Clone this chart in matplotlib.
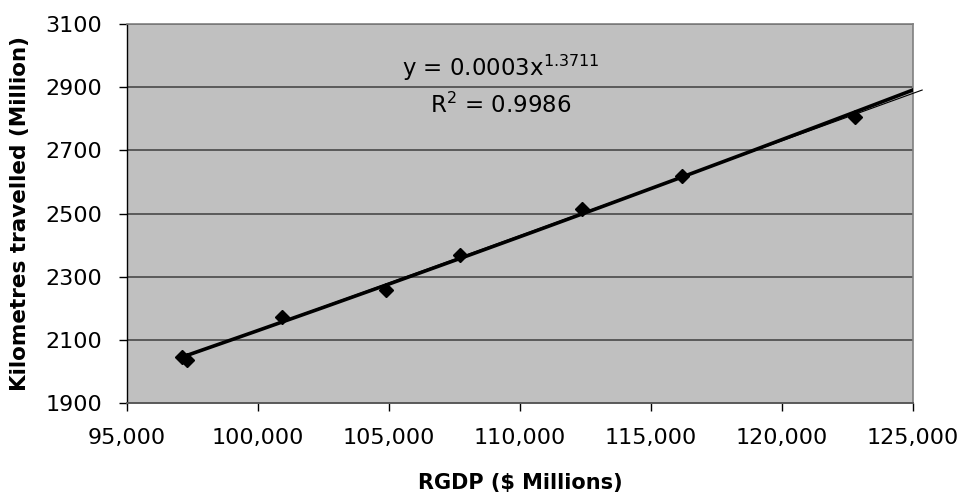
import numpy as np
import matplotlib
matplotlib.use("Agg")
import matplotlib.pyplot as plt

plt.rcParams['font.family'] = ['DejaVu Sans']

# Data
rgdp = [97100, 97300, 100900, 104900, 107700, 112350, 116200, 122800]
km = [2046, 2036, 2172, 2258, 2369, 2514, 2619, 2805]
x_ticks = [95000, 100000, 105000, 110000, 115000, 120000, 125000]
y_ticks = [1900, 2100, 2300, 2500, 2700, 2900, 3100]
eq_text = r"y = 0.0003x$^{1.3711}$"
r2_text = r"R$^{2}$ = 0.9986"

x = np.array(rgdp, dtype=float)
y = np.array(km, dtype=float)

fig = plt.figure(figsize=(9.62, 5.01), dpi=100)
ax = fig.add_axes([127/962, 1-403/501, (913-127)/962, (403-24)/501])
ax.set_facecolor('#C0C0C0')

ax.set_xlim(95000, 125000)
ax.set_ylim(1900, 3100)
ax.set_xticks(x_ticks)
ax.set_yticks(y_ticks)
ax.set_xticklabels([f"{v:,}" for v in x_ticks])
ax.set_yticklabels([str(v) for v in y_ticks])

ax.yaxis.grid(True, color='#5a5a5a', linewidth=1.4)
ax.set_axisbelow(True)

for s in ['top', 'right']:
    ax.spines[s].set_color('#808080')
    ax.spines[s].set_linewidth(1.2)
ax.spines['left'].set_color('black')
ax.spines['left'].set_linewidth(1.0)
ax.spines['bottom'].set_color('#5a5a5a')
ax.spines['bottom'].set_linewidth(1.4)

ax.tick_params(axis='both', direction='out', length=6, width=1, color='black',
               labelsize=16)
ax.tick_params(axis='x', pad=12)
ax.tick_params(axis='y', pad=12)

# Power trendline (thick)
b, ln_a = np.polyfit(np.log(x), np.log(y), 1)
xp = np.linspace(x.min(), 125000, 200)
ax.plot(xp, np.exp(ln_a) * xp ** b, color='black', linewidth=2.6, zorder=3)

# Linear trendline (thin)
m, c = np.polyfit(x, y, 1)
xl = np.array([x.min(), 125350])
ax.plot(xl, m * xl + c, color='black', linewidth=0.8, zorder=4, clip_on=False)

ax.plot(x, y, linestyle='none', marker='D', markersize=7, color='black', zorder=5)

ax.text(109250, 2937, eq_text, ha='center', va='baseline', fontsize=16.5)
ax.text(109250, 2820, r2_text, ha='center', va='baseline', fontsize=16.5)

ax.set_xlabel("RGDP ($ Millions)", fontsize=15, fontweight='bold', labelpad=18)
ax.set_ylabel("Kilometres travelled (Million)", fontsize=15.5, fontweight='bold', labelpad=11)

fig.savefig("out.png", dpi=100)
